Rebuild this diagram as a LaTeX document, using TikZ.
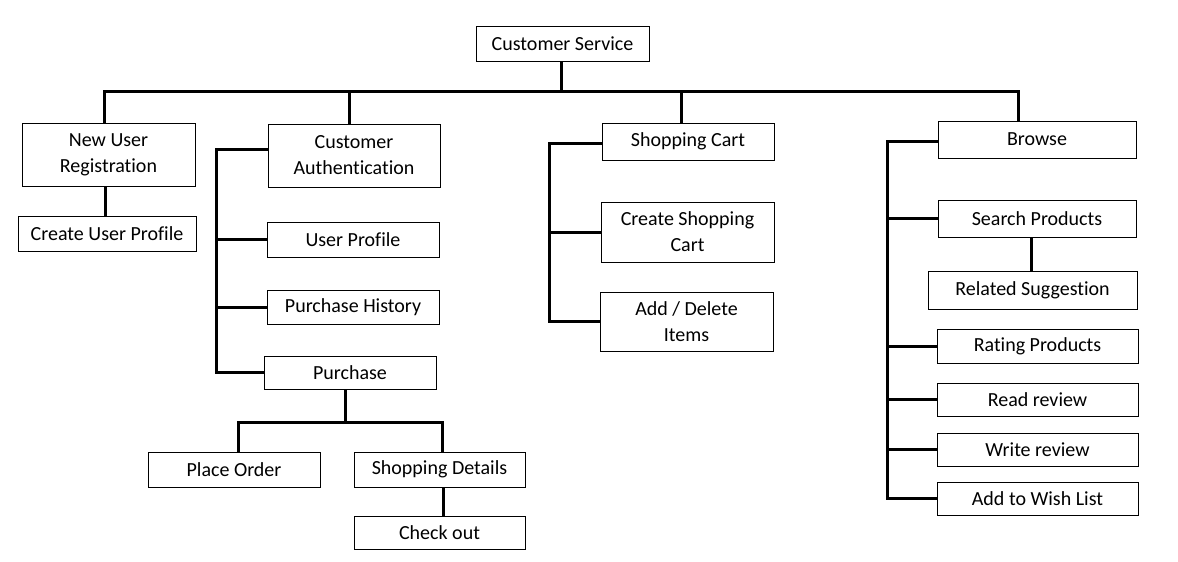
\documentclass[tikz,border=0pt]{standalone}
\usepackage{fontspec}
\setmainfont{Carlito}[Ligatures={NoCommon}]
\begin{document}
\begin{tikzpicture}[x=1pt,y=-1pt,
 box/.style={draw, line width=1pt, inner sep=0pt, align=center, font=\fontsize{20}{26}\selectfont},
 conn/.style={line width=3pt}]
\useasboundingbox (0,0) rectangle (1178,562);
% boxes
\node[box, minimum width=173pt, minimum height=35pt] (cs) at (562.5,43.5) {Customer Service};
\node[box, minimum width=173pt, minimum height=63pt] (nur) at (108.5,154.5) {New User\\Registration};
\node[box, minimum width=178pt, minimum height=35pt] (cup) at (107,233.5) {Create User Profile};
\node[box, minimum width=172pt, minimum height=63pt] (ca) at (354,155.5) {Customer\\Authentication};
\node[box, minimum width=172pt, minimum height=35pt] (up) at (353,239.5) {User Profile};
\node[box, minimum width=172pt, minimum height=34pt] (ph) at (353,307) {Purchase History};
\node[box, minimum width=172pt, minimum height=33pt] (pur) at (350,372.5) {Purchase};
\node[box, minimum width=172pt, minimum height=35pt] (po) at (234,469.5) {Place Order};
\node[box, minimum width=171pt, minimum height=35pt] (sd) at (439.5,469.5) {Shopping Details};
\node[box, minimum width=171pt, minimum height=33pt] (co) at (439.5,532.5) {Check out};
\node[box, minimum width=172pt, minimum height=37pt] (sc) at (688,141.5) {Shopping Cart};
\node[box, minimum width=173pt, minimum height=60pt] (csc) at (687.5,232) {Create Shopping\\Cart};
\node[box, minimum width=173pt, minimum height=59pt] (adi) at (686.5,321.5) {Add / Delete\\Items};
\node[box, minimum width=198pt, minimum height=37pt] (br) at (1037,139.5) {Browse};
\node[box, minimum width=198pt, minimum height=37pt] (sp) at (1037,218.5) {Search Products};
\node[box, minimum width=209pt, minimum height=38pt] (rs) at (1032.5,290) {Related Suggestion};
\node[box, minimum width=201pt, minimum height=34pt] (rp) at (1037.5,346) {Rating Products};
\node[box, minimum width=201pt, minimum height=33pt] (rr) at (1037.5,399.5) {Read review};
\node[box, minimum width=201pt, minimum height=33pt] (wr) at (1037.5,449.5) {Write review};
\node[box, minimum width=201pt, minimum height=33pt] (aw) at (1037.5,498.5) {Add to Wish List};
% junction coordinates
\coordinate (top) at (561,91);
\coordinate (d1) at (104,91);
\coordinate (d2) at (349,91);
\coordinate (d3) at (681,91);
\coordinate (d4) at (1018,91);
\coordinate (caS) at (216,149);
\coordinate (scS) at (549,143);
\coordinate (brS) at (887,141);
\coordinate (pbar) at (345,422);
% connectors
\draw[conn] (top |- cs.south) -- (top);
\draw[conn] (d1 |- nur.north) -- (d1) -- (d4) -- (d4 |- br.north);
\draw[conn] (d2) -- (d2 |- ca.north);
\draw[conn] (d3) -- (d3 |- sc.north);
\draw[conn] (nur.south -| 105,0) -- (cup.north -| 105,0);
% customer authentication spine
\draw[conn] (caS -| ca.west) -- (caS) |- (pur.west);
\draw[conn] (caS |- up.west) -- (up.west);
\draw[conn] (caS |- ph.west) -- (ph.west);
% purchase
\draw[conn] (pbar |- pur.south) -- (pbar);
\draw[conn] (po.north -| 238,0) |- (pbar) -| (sd.north -| 442,0);
\draw[conn] (sd.south -| 443,0) -- (co.north -| 443,0);
% shopping cart spine
\draw[conn] (scS -| sc.west) -- (scS) |- (adi.west);
\draw[conn] (scS |- csc.west) -- (csc.west);
% browse spine
\draw[conn] (brS -| br.west) -- (brS) |- (aw.west);
\draw[conn] (brS |- sp.west) -- (sp.west);
\draw[conn] (brS |- rp.west) -- (rp.west);
\draw[conn] (brS |- rr.west) -- (rr.west);
\draw[conn] (brS |- wr.west) -- (wr.west);
\draw[conn] (sp.south -| 1031,0) -- (rs.north -| 1031,0);
\end{tikzpicture}
\end{document}
